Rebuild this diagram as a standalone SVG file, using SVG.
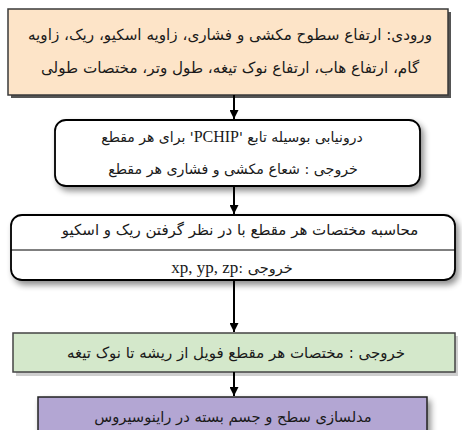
<svg xmlns="http://www.w3.org/2000/svg" width="462" height="430" viewBox="0 0 462 430">
<style>
.t{font-family:"DejaVu Sans",sans-serif;fill:#1a1a1a;text-anchor:middle}
.conn line{stroke:#000;stroke-width:2}
</style>
<defs>
<marker id="ah" viewBox="0 0 10 10" refX="10" refY="5" markerWidth="4.5" markerHeight="4.5" orient="auto" markerUnits="strokeWidth">
<path d="M0,0 L10,5 L0,10 Z" fill="#000"/>
</marker>
<filter id="soft" x="-10%" y="-20%" width="125%" height="150%">
<feGaussianBlur in="SourceAlpha" stdDeviation="3"/>
<feOffset dx="3" dy="4" result="b"/>
<feComponentTransfer><feFuncA type="linear" slope="0.45"/></feComponentTransfer>
<feMerge><feMergeNode/><feMergeNode in="SourceGraphic"/></feMerge>
</filter>
</defs>
<g id="n1">
<rect x="11" y="12" width="440" height="86" fill="#555"/>
<rect x="8" y="9" width="440" height="86" fill="#FDE4C8" stroke="#3a3a3a" stroke-width="1.5"/>
<text class="t" x="230" y="40" font-size="15.2" direction="rtl">ورودی: ارتفاع سطوح مکشی و فشاری، زاویه اسکیو، ریک، زاویه</text>
<text class="t" x="230" y="73" font-size="15.2" direction="rtl">گام، ارتفاع هاب، ارتفاع نوک تیغه، طول وتر، مختصات طولی</text>
</g>
<g id="n2">
<rect x="55" y="120" width="365" height="66" rx="11" fill="#fff" stroke="#000" stroke-width="1.8" filter="url(#soft)"/>
<text class="t" x="232" y="142" font-size="14" direction="rtl">درونیابی بوسیله تابع '<tspan font-family="Liberation Serif" font-size="16">PCHIP</tspan>' برای هر مقطع</text>
<text class="t" x="233" y="174" font-size="14.2" direction="rtl">خروجی : شعاع مکشی و فشاری هر مقطع</text>
</g>
<g id="n3">
<rect x="11" y="215" width="444" height="65" rx="11" fill="#fff" stroke="#000" stroke-width="1.8" filter="url(#soft)"/>
<line x1="11" y1="250" x2="455" y2="250" stroke="#000" stroke-width="1"/>
<text class="t" x="240" y="235" font-size="15" direction="rtl">محاسبه مختصات هر مقطع با در نظر گرفتن ریک و اسکیو</text>
<text class="t" x="232" y="273" font-size="14.5" direction="rtl">خروجی :<tspan font-family="Liberation Serif" font-size="17">xp, yp, zp</tspan></text>
</g>
<g id="n4">
<rect x="16" y="336" width="442" height="40" fill="#cfcfcf"/>
<rect x="13" y="333" width="442" height="39" fill="#D4E8CB" stroke="#444" stroke-width="1.5"/>
<text class="t" x="236" y="358" font-size="15" direction="rtl">خروجی : مختصات هر مقطع فویل از ریشه تا نوک تیغه</text>
</g>
<g id="n5">
<rect x="38" y="397" width="389" height="40" fill="#B3A6D3" stroke="#222" stroke-width="1.5" filter="url(#soft)"/>
<text class="t" x="233" y="422" font-size="14.7" direction="rtl">مدلسازی سطح و جسم بسته در راینوسیروس</text>
</g>
<g class="conn" id="connectors">
<line x1="234" y1="95" x2="234" y2="119" marker-end="url(#ah)"/>
<line x1="234" y1="186" x2="234" y2="214" marker-end="url(#ah)"/>
<line x1="234" y1="280" x2="234" y2="332" marker-end="url(#ah)"/>
<line x1="234" y1="372" x2="234" y2="396" marker-end="url(#ah)"/>
</g>
</svg>
